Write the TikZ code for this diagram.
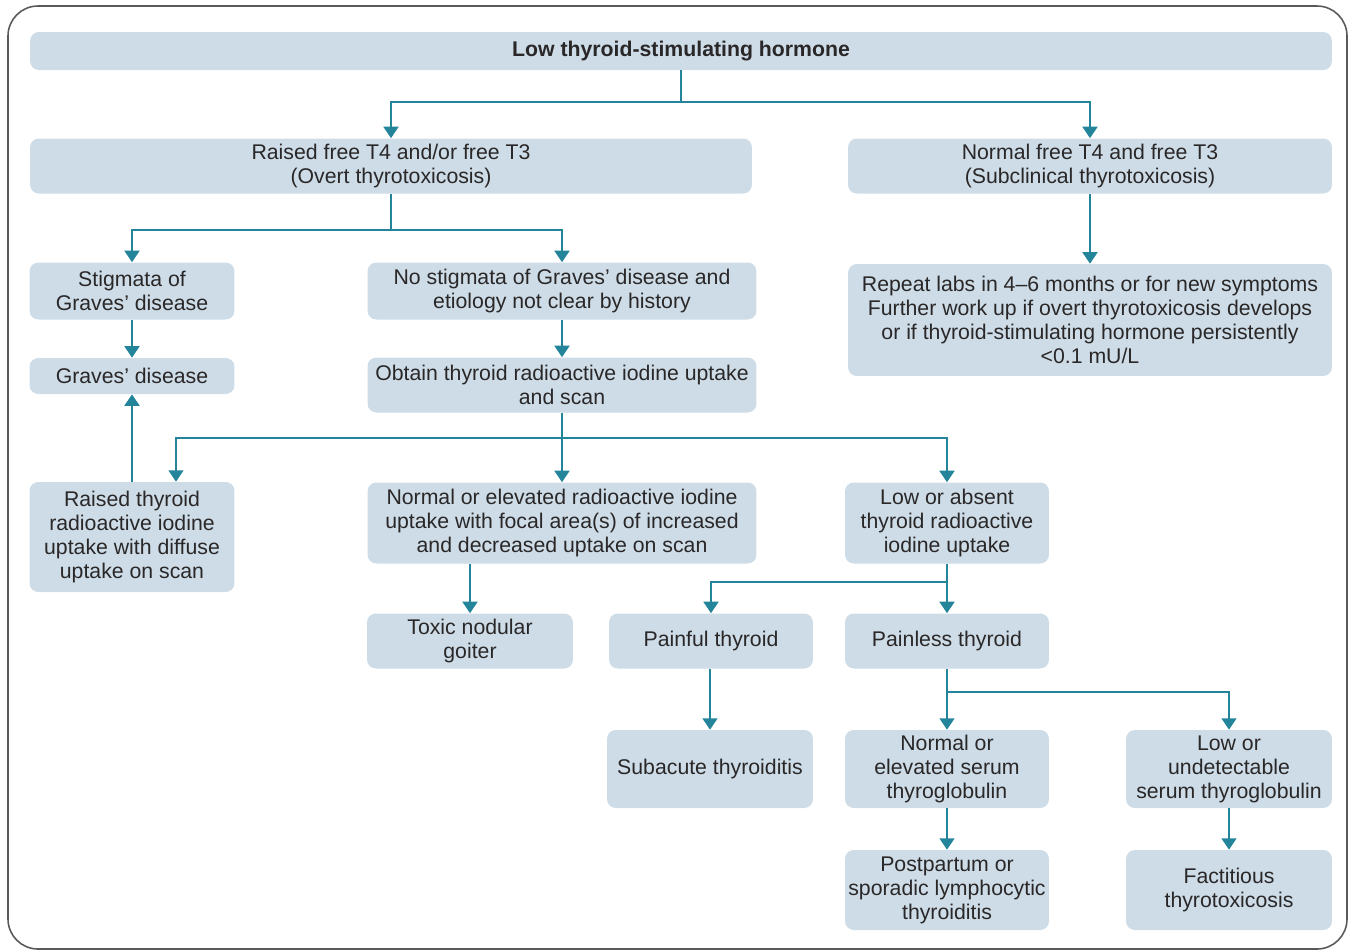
\documentclass[tikz,border=0pt]{standalone}
\usepackage{fontspec}
\setmainfont{Liberation Sans}
\usepackage{tikz}
\usetikzlibrary{arrows.meta, calc, positioning}
\usepackage{xcolor}
\definecolor{tBox}{HTML}{CDDCE6}
\definecolor{tTeal}{HTML}{23849A}
\definecolor{tInk}{HTML}{2A2728}
\definecolor{tFrame}{HTML}{5A5A5A}

\begin{document}
\begin{tikzpicture}[x=0.02cm, y=-0.02cm,
    box/.style={fill=tBox, rounded corners=5pt, align=center, inner sep=0pt,
                text=tInk, font=\fontsize{12.1}{13.6}\selectfont},
    link/.style={tTeal, line width=1.1pt},
    >={Triangle[length=6.5pt, width=8.5pt]}]
  \useasboundingbox (0,0) rectangle (1349,951);
  % outer frame
  \draw[tFrame, line width=0.9pt, rounded corners=0.6cm] (8,6) rectangle (1347,949);

  % top level
  \node[box, minimum width=26.04cm, minimum height=0.76cm, font=\fontsize{12.1}{13.6}\selectfont\bfseries]
    (tsh) at (681,51) {Low thyroid-stimulating hormone};
  \node[box, minimum width=14.44cm, minimum height=1.1cm] (overt) at (391,166)
    {Raised free T4 and/or free T3\\(Overt thyrotoxicosis)};
  \node[box, minimum width=9.68cm, minimum height=1.1cm] (subcl) at (1090,166)
    {Normal free T4 and free T3\\(Subclinical thyrotoxicosis)};

  % overt branch
  \node[box, minimum width=4.1cm, minimum height=1.14cm] (stig) at (132,291)
    {Stigmata of\\Graves' disease};
  \node[box, minimum width=7.78cm, minimum height=1.14cm] (nostig) at (562,291)
    {No stigmata of Graves' disease and\\etiology not clear by history};
  \node[box, minimum width=4.1cm, minimum height=0.72cm] (graves) at (132,376)
    {Graves' disease};
  \node[box, minimum width=7.78cm, minimum height=1.1cm] (scan) at (562,385)
    {Obtain thyroid radioactive iodine uptake\\and scan};

  % subclinical branch
  \node[box, minimum width=9.68cm, minimum height=2.24cm] (repeat) at (1090,320)
    {Repeat labs in 4--6 months or for new symptoms\\
     Further work up if overt thyrotoxicosis develops\\
     or if thyroid-stimulating hormone persistently\\
     <0.1 mU/L};

  % uptake results
  \node[box, minimum width=4.1cm, minimum height=2.2cm] (diffuse) at (132,537)
    {Raised thyroid\\radioactive iodine\\uptake with diffuse\\uptake on scan};
  \node[box, minimum width=7.78cm, minimum height=1.62cm] (focal) at (562,523)
    {Normal or elevated radioactive iodine\\uptake with focal area(s) of increased\\and decreased uptake on scan};
  \node[box, minimum width=4.08cm, minimum height=1.62cm] (lowup) at (947,523)
    {Low or absent\\thyroid radioactive\\iodine uptake};

  \node[box, minimum width=4.12cm, minimum height=1.1cm] (toxic) at (470,641)
    {Toxic nodular\\goiter};
  \node[box, minimum width=4.08cm, minimum height=1.1cm] (painful) at (711,641)
    {Painful thyroid};
  \node[box, minimum width=4.08cm, minimum height=1.1cm] (painless) at (947,641)
    {Painless thyroid};

  \node[box, minimum width=4.12cm, minimum height=1.56cm] (subacute) at (710,769)
    {Subacute thyroiditis};
  \node[box, minimum width=4.08cm, minimum height=1.56cm] (tgnorm) at (947,769)
    {Normal or\\elevated serum\\thyroglobulin};
  \node[box, minimum width=4.12cm, minimum height=1.56cm] (tglow) at (1229,769)
    {Low or\\undetectable\\serum thyroglobulin};

  \node[box, minimum width=4.08cm, minimum height=1.6cm] (postp) at (947,890)
    {Postpartum or\\sporadic lymphocytic\\thyroiditis};
  \node[box, minimum width=4.12cm, minimum height=1.6cm] (fact) at (1229,890)
    {Factitious\\thyrotoxicosis};

  % branch points
  \coordinate (j1) at (681,102);
  \coordinate (j2) at (391,230);
  \coordinate (j3) at (562,438);
  \coordinate (j4) at (947,582);
  \coordinate (j5) at (947,692);

  % connectors
  \draw[link] (tsh) -- (j1);
  \draw[link, ->] (j1) -| (overt.north);
  \draw[link, ->] (j1) -| (subcl.north);
  \draw[link] (overt) -- (j2);
  \draw[link, ->] (j2) -| (stig.north);
  \draw[link, ->] (j2) -| (nostig.north);
  \draw[link, ->] (stig) -- (graves);
  \draw[link, ->] (nostig) -- (scan);
  \draw[link, ->] (subcl) -- (repeat);
  \draw[link] (scan) -- (j3);
  \draw[link, ->] (j3) -| ($(diffuse.north)+(44,0)$);
  \draw[link, ->] (j3) -- (focal.north);
  \draw[link, ->] (j3) -| (lowup.north);
  \draw[link, ->] (diffuse) -- (graves);
  \draw[link, ->] (focal.south -| toxic.north) -- (toxic.north);
  \draw[link] (lowup) -- (j4);
  \draw[link, ->] (j4) -| (painful.north);
  \draw[link, ->] (j4) -- (painless.north);
  \draw[link, ->] (painful.south -| subacute.north) -- (subacute.north);
  \draw[link] (painless) -- (j5);
  \draw[link, ->] (j5) -- (tgnorm.north);
  \draw[link, ->] (j5) -| (tglow.north);
  \draw[link, ->] (tgnorm) -- (postp);
  \draw[link, ->] (tglow) -- (fact);
\end{tikzpicture}
\end{document}
